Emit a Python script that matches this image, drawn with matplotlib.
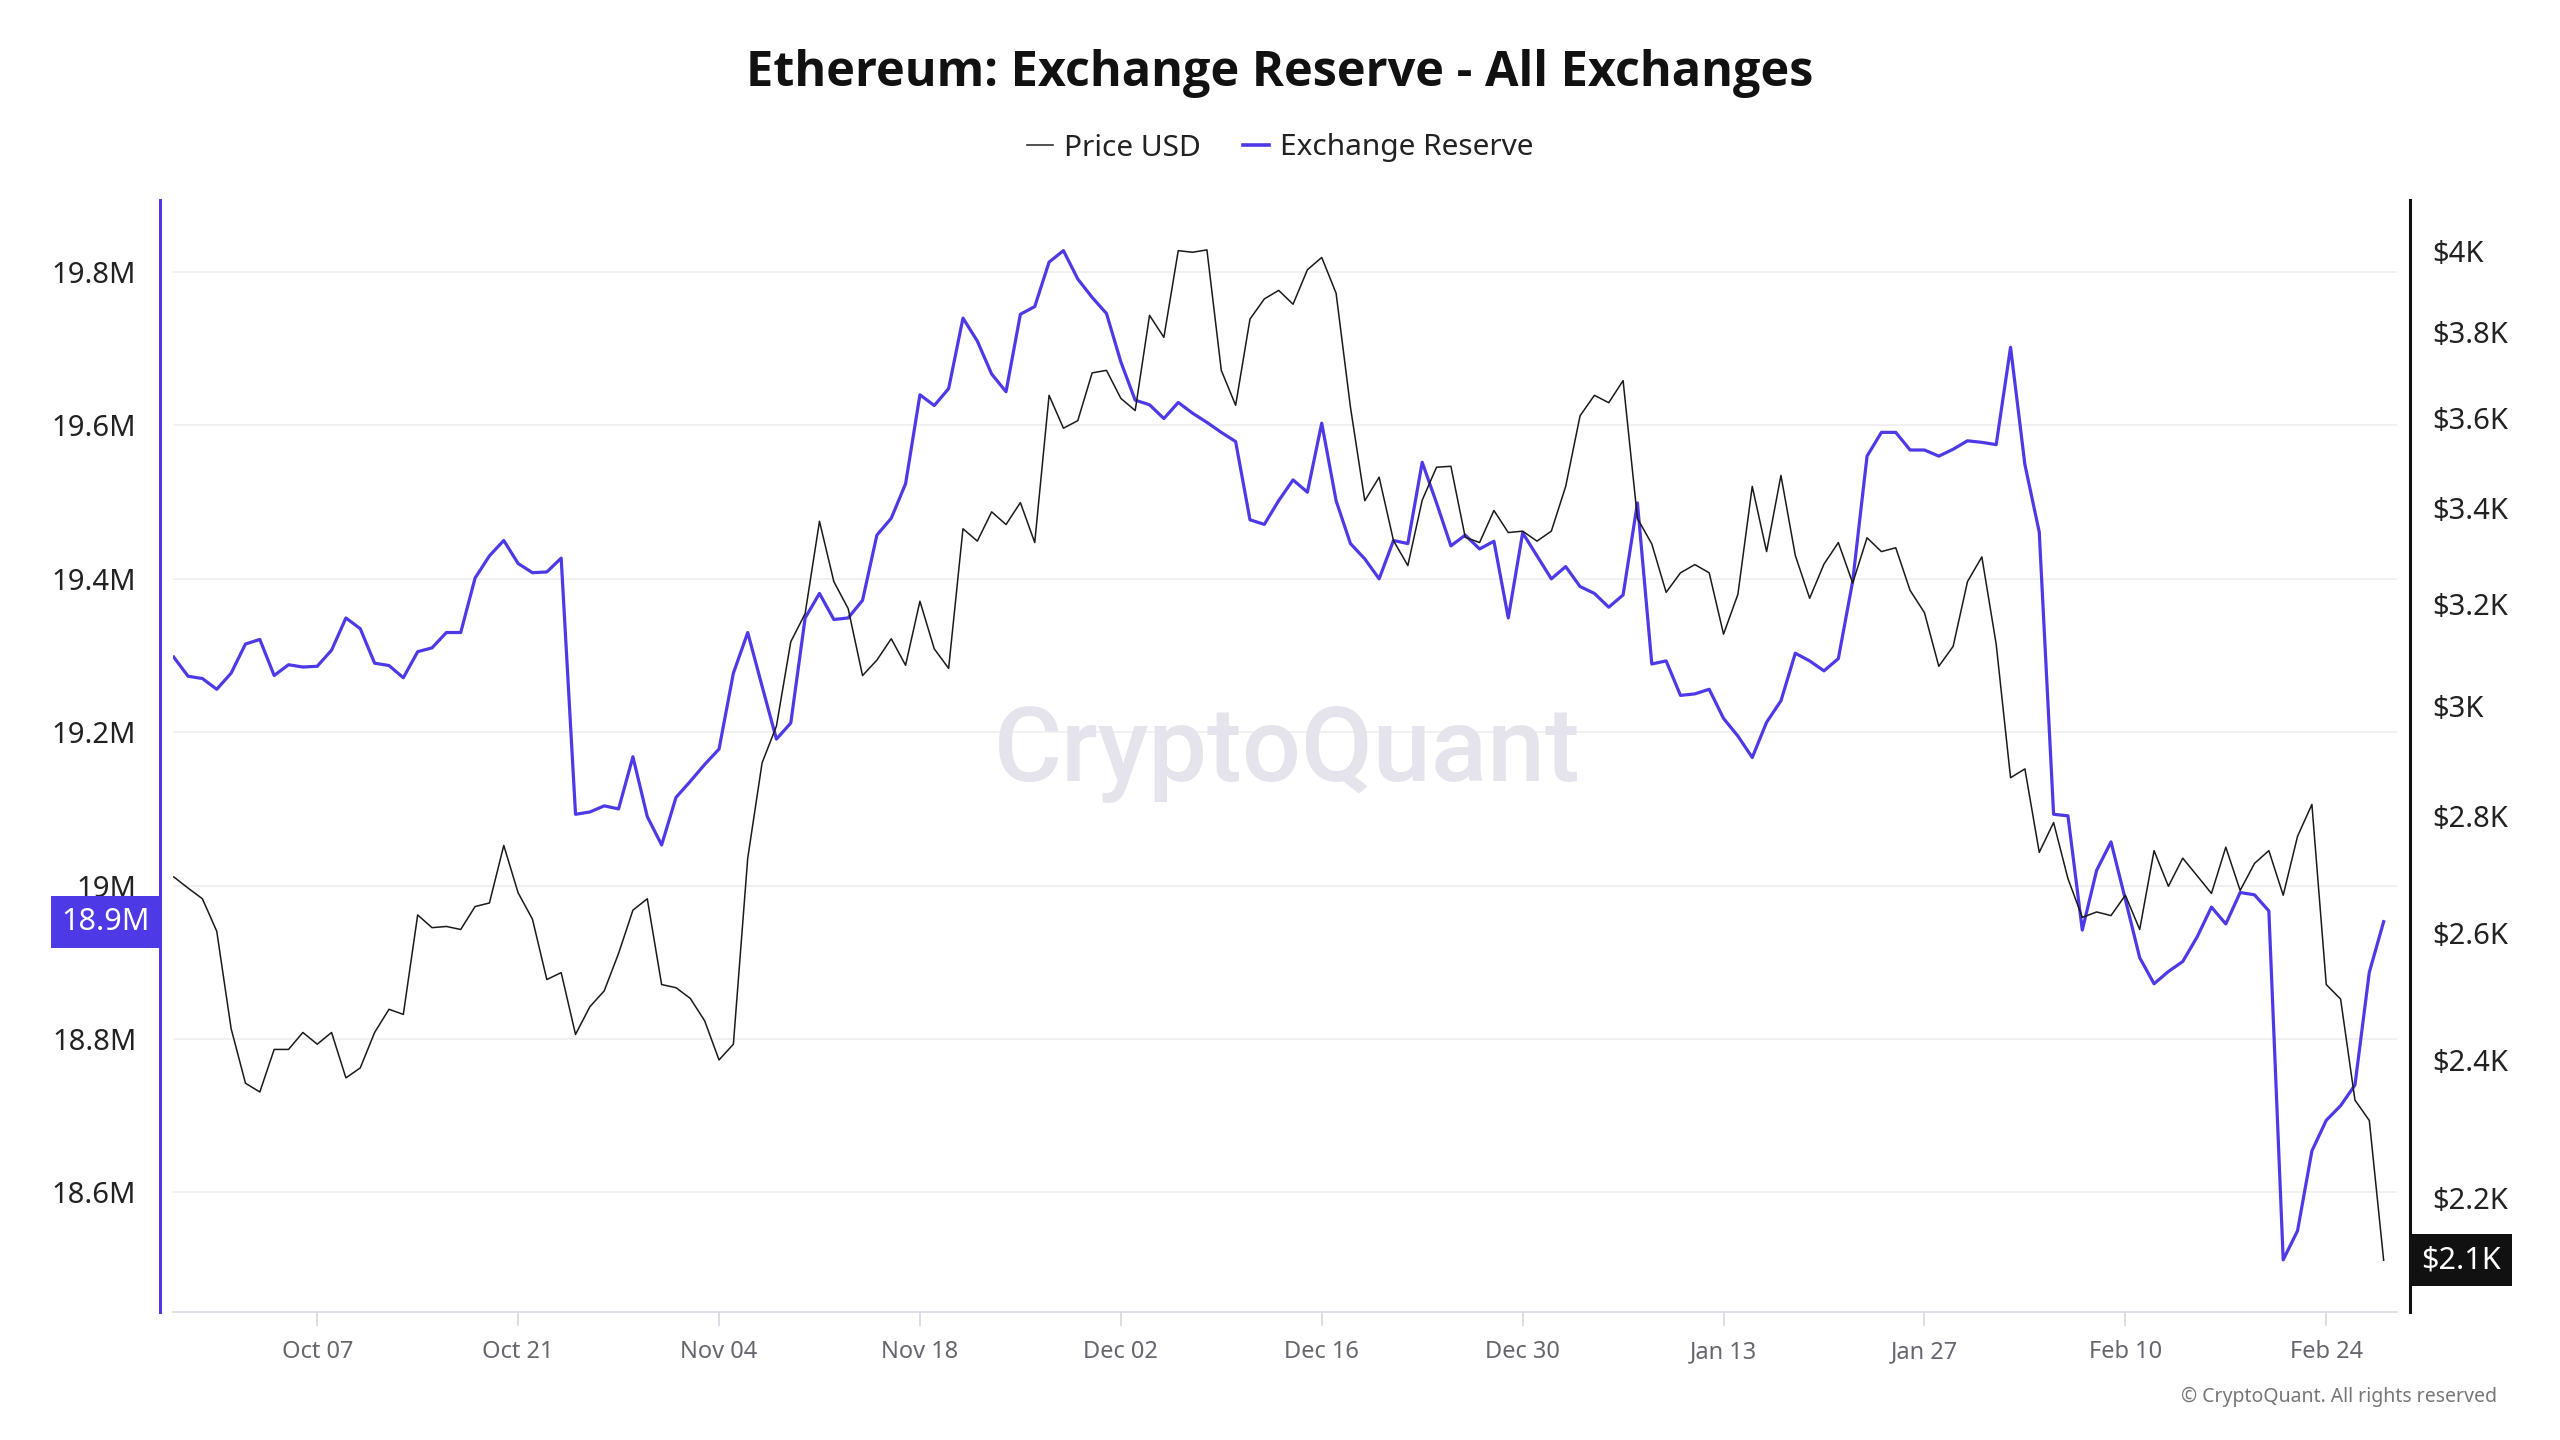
import numpy as np
import pandas as pd
import matplotlib
matplotlib.use("Agg")
import matplotlib.pyplot as plt
import matplotlib.dates as mdates
from matplotlib.lines import Line2D
from matplotlib.ticker import FixedLocator, NullLocator, FuncFormatter
import matplotlib.transforms as mtransforms

plt.rcParams["font.family"] = ["Noto Sans", "DejaVu Sans"]

# daily values, 2024-09-27 .. 2025-02-28
start_date = "2024-09-27"

reserve_m = [
    19.298, 19.273, 19.270, 19.256, 19.277, 19.315, 19.321, 19.274, 19.288, 19.285,
    19.286, 19.307, 19.349, 19.335, 19.290, 19.287, 19.271, 19.305, 19.310, 19.330,
    19.330, 19.401, 19.430, 19.450, 19.420, 19.408, 19.409, 19.427, 19.093, 19.096,
    19.104, 19.100, 19.168, 19.090, 19.053, 19.115, 19.136, 19.158, 19.178, 19.277,
    19.330, 19.260, 19.191, 19.212, 19.349, 19.381, 19.347, 19.349, 19.372, 19.457,
    19.479, 19.524, 19.640, 19.626, 19.648, 19.740, 19.710, 19.667, 19.644, 19.745,
    19.755, 19.813, 19.828, 19.791, 19.767, 19.746, 19.683, 19.633, 19.627, 19.609,
    19.630, 19.616, 19.604, 19.591, 19.579, 19.477, 19.471, 19.502, 19.529, 19.513,
    19.603, 19.502, 19.446, 19.426, 19.400, 19.450, 19.446, 19.552, 19.499, 19.443,
    19.457, 19.439, 19.449, 19.349, 19.460, 19.430, 19.400, 19.416, 19.390, 19.381,
    19.363, 19.379, 19.499, 19.289, 19.293, 19.248, 19.250, 19.256, 19.218, 19.195,
    19.167, 19.213, 19.241, 19.303, 19.293, 19.280, 19.296, 19.397, 19.560, 19.591,
    19.591, 19.568, 19.568, 19.560, 19.569, 19.580, 19.578, 19.575, 19.702, 19.549,
    19.461, 19.093, 19.091, 18.942, 19.020, 19.057, 18.982, 18.906, 18.872, 18.888,
    18.901, 18.933, 18.972, 18.950, 18.991, 18.988, 18.967, 18.512, 18.550, 18.654,
    18.694, 18.713, 18.740, 18.887, 18.953,
]

price_usd = [
    2694, 2675, 2657, 2603, 2448, 2365, 2352, 2416, 2416, 2442,
    2424, 2442, 2373, 2388, 2442, 2478, 2470, 2630, 2609, 2611,
    2606, 2644, 2650, 2748, 2667, 2623, 2525, 2536, 2439, 2482,
    2507, 2567, 2638, 2657, 2517, 2512, 2495, 2460, 2400, 2424,
    2726, 2895, 2963, 3125, 3181, 3372, 3246, 3191, 3059, 3089,
    3131, 3079, 3206, 3111, 3073, 3356, 3330, 3392, 3365, 3412,
    3327, 3651, 3576, 3593, 3703, 3709, 3644, 3616, 3840, 3787,
    4000, 3996, 4002, 3709, 3628, 3831, 3880, 3901, 3867, 3952,
    3983, 3894, 3624, 3416, 3467, 3331, 3279, 3417, 3489, 3491,
    3338, 3327, 3395, 3348, 3351, 3330, 3351, 3447, 3604, 3651,
    3634, 3685, 3378, 3324, 3224, 3264, 3281, 3264, 3140, 3220,
    3447, 3308, 3471, 3300, 3212, 3282, 3327, 3243, 3337, 3308,
    3316, 3228, 3183, 3077, 3116, 3246, 3297, 3120, 2868, 2884,
    2736, 2788, 2691, 2626, 2635, 2629, 2663, 2606, 2739, 2678,
    2726, 2696, 2666, 2745, 2671, 2717, 2739, 2663, 2764, 2820,
    2517, 2494, 2340, 2310, 2115,
]

reserve_ticks = [18.6, 18.8, 19.0, 19.2, 19.4, 19.6, 19.8]
price_ticks = [2200, 2400, 2600, 2800, 3000, 3200, 3400, 3600, 3800, 4000]
xtick_dates = ["2024-10-07", "2024-10-21", "2024-11-04", "2024-11-18", "2024-12-02",
               "2024-12-16", "2024-12-30", "2025-01-13", "2025-01-27", "2025-02-10",
               "2025-02-24"]

dates = pd.date_range(start_date, periods=len(reserve_m), freq="D")

BLUE = "#4d3ae6"
W, H = 2560, 1440
fig = plt.figure(figsize=(W / 100, H / 100), dpi=100)
fig.patch.set_facecolor("white")

# axes box in pixels: x 173..2397, y 200..1312
AX_L, AX_R, AX_T, AX_B = 173, 2397, 200, 1312
ax = fig.add_axes([AX_L / W, 1 - AX_B / H, (AX_R - AX_L) / W, (AX_B - AX_T) / H])
ax2 = ax.twinx()

ax.plot(dates, reserve_m, color=BLUE, lw=2.3, zorder=3)
ax2.plot(dates, price_usd, color="#1a1a1a", lw=1.1, zorder=3)

x0 = mdates.date2num(dates[0]) - 0.05
x1 = mdates.date2num(dates[-1]) + 0.93
ax.set_xlim(x0, x1)
ax.set_ylim(18.444, 19.894)
ax2.set_yscale("log")
ax2.set_ylim(2047, 4130)

# left axis
ax.yaxis.set_major_locator(FixedLocator(reserve_ticks))
ax.yaxis.set_major_formatter(FuncFormatter(lambda v, p: f"{round(v, 1):g}M"))
ax.tick_params(axis="y", length=0, pad=17, labelsize=21, labelcolor="#222222")
ax.yaxis.grid(True, color="#f0f0f3", lw=1.3)
ax.set_axisbelow(True)

# right axis
ax2.yaxis.set_major_locator(FixedLocator(price_ticks))
ax2.yaxis.set_minor_locator(NullLocator())
ax2.yaxis.set_major_formatter(FuncFormatter(lambda v, p: f"${v / 1000:g}K"))
ax2.tick_params(axis="y", which="both", length=0, pad=16, labelsize=21, labelcolor="#222222")

# x axis
ax.xaxis.set_major_locator(FixedLocator(mdates.date2num(pd.to_datetime(xtick_dates))))
ax.xaxis.set_major_formatter(mdates.DateFormatter("%b %d"))
ax.tick_params(axis="x", direction="out", length=10, width=1.2, color="#d6d6e0",
               pad=10, labelsize=17, labelcolor="#66666e")

for s in ["top", "right"]:
    ax.spines[s].set_visible(False)
for s in ["top", "left", "bottom"]:
    ax2.spines[s].set_visible(False)
ax.spines["left"].set_color(BLUE)
ax.spines["left"].set_linewidth(2.2)
ax.spines["left"].set_position(("outward", 9.4))
ax.spines["bottom"].set_color("#d9d9e3")
ax.spines["bottom"].set_linewidth(1.2)
ax2.spines["right"].set_color("#111111")
ax2.spines["right"].set_linewidth(2.2)
ax2.spines["right"].set_position(("outward", 9.4))

# watermark
ax.text(0.501, 0.502, "CryptoQuant", transform=ax.transAxes, ha="center", va="center",
        fontsize=75, color="#e5e3ec", family=["Roboto", "DejaVu Sans"], fontweight="medium",
        zorder=1)

# last-value boxes
span = AX_R - AX_L
last_r = reserve_m[-1]
tr_left = mtransforms.blended_transform_factory(ax.transAxes, ax.transData)
ax.text((150 - AX_L) / span, last_r, f"{np.floor(last_r * 10) / 10:.1f}M", transform=tr_left,
        ha="right", va="center", fontsize=22, color="white", zorder=10, clip_on=False,
        bbox=dict(boxstyle="square,pad=0.36", facecolor=BLUE, edgecolor="none"))

last_p = price_usd[-1]
tr_right = mtransforms.blended_transform_factory(ax2.transAxes, ax2.transData)
ax2.text((2421 - AX_L) / span, last_p, f"${last_p / 1000:.1f}K", transform=tr_right,
         ha="left", va="center", fontsize=22, color="white", zorder=10, clip_on=False,
         bbox=dict(boxstyle="square,pad=0.36", facecolor="#111111", edgecolor="none"))

# title, legend, footer
fig.text(0.5, 1 - 74 / H, "Ethereum: Exchange Reserve - All Exchanges", ha="center",
         va="center", fontsize=35, fontweight="bold", color="#111111",
         family=["Open Sans", "DejaVu Sans"])

handles = [Line2D([0], [0], color="#333333", lw=1.2),
           Line2D([0], [0], color=BLUE, lw=2.6)]
fig.legend(handles, ["Price USD", "Exchange Reserve"], loc="center",
           bbox_to_anchor=(0.5, 1 - 148 / H), ncol=2, frameon=False, fontsize=21.5,
           handlelength=0.9, handletextpad=0.35, columnspacing=1.4, labelcolor="#222222")

fig.text(2497 / W, 1 - 1397 / H, "© CryptoQuant. All rights reserved", ha="right",
         va="center", fontsize=14, color="#777777")

fig.savefig("out.png", dpi=100, facecolor="white")
